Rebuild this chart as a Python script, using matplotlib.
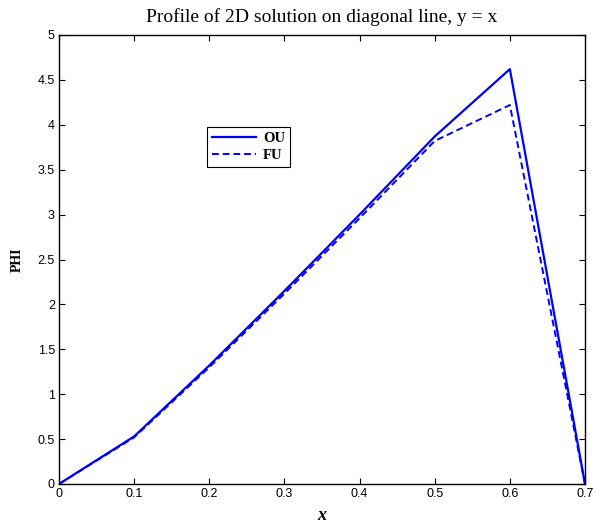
import matplotlib
matplotlib.use("Agg")
import matplotlib.pyplot as plt

x = [0.0, 0.1, 0.2, 0.3, 0.4, 0.5, 0.6, 0.7]
ou = [0.0, 0.53, 1.32, 2.15, 3.0, 3.87, 4.62, 0.0]
fu = [0.0, 0.52, 1.30, 2.12, 2.96, 3.82, 4.22, 0.0]
xticks = [0, 0.1, 0.2, 0.3, 0.4, 0.5, 0.6, 0.7]
xticklabels = ["0", "0.1", "0.2", "0.3", "0.4", "0.5", "0.6", "0.7"]
yticks = [0, 0.5, 1, 1.5, 2, 2.5, 3, 3.5, 4, 4.5, 5]
yticklabels = ["0", "0.5", "1", "1.5", "2", "2.5", "3", "3.5", "4", "4.5", "5"]

fig = plt.figure(figsize=(6.02, 5.24), dpi=100)
ax = fig.add_axes([59/602, 40/524, (585-59)/602, (484-35)/524])

ax.plot(x, ou, color="#0000ff", lw=1.6, ls="-", label="OU")
ax.plot(x, fu, color="#0000ff", lw=1.4, ls=(0, (3.5, 2)), label="FU")

ax.set_xlim(0, 0.7)
ax.set_ylim(0, 5)
ax.set_xticks(xticks)
ax.set_xticklabels(xticklabels)
ax.set_yticks(yticks)
ax.set_yticklabels(yticklabels)
ax.tick_params(direction="in", top=True, right=True, length=4, width=0.8,
               labelsize=9, pad=3)
for lab in ax.get_xticklabels() + ax.get_yticklabels():
    lab.set_fontfamily("Liberation Sans")
for s in ax.spines.values():
    s.set_linewidth(1.0)

ax.set_title("Profile of 2D solution on diagonal line, y = x",
             fontfamily="Liberation Serif", fontsize=14, pad=9)
ax.set_xlabel("x", fontfamily="Liberation Serif", fontsize=13,
              fontweight="bold", fontstyle="italic", labelpad=5)
ax.set_ylabel("PHI", fontfamily="Liberation Serif", fontsize=10,
              fontweight="bold", labelpad=10)

leg = ax.legend(loc="upper left", bbox_to_anchor=(0.281, 0.795),
                prop={"family": "Liberation Serif", "weight": "bold", "size": 10.5},
                fancybox=False, framealpha=1, edgecolor="black",
                handlelength=3.0, handletextpad=0.5, borderpad=0.35,
                labelspacing=0.25, borderaxespad=0)
leg.get_frame().set_linewidth(0.8)

fig.savefig("out.png", dpi=100)
